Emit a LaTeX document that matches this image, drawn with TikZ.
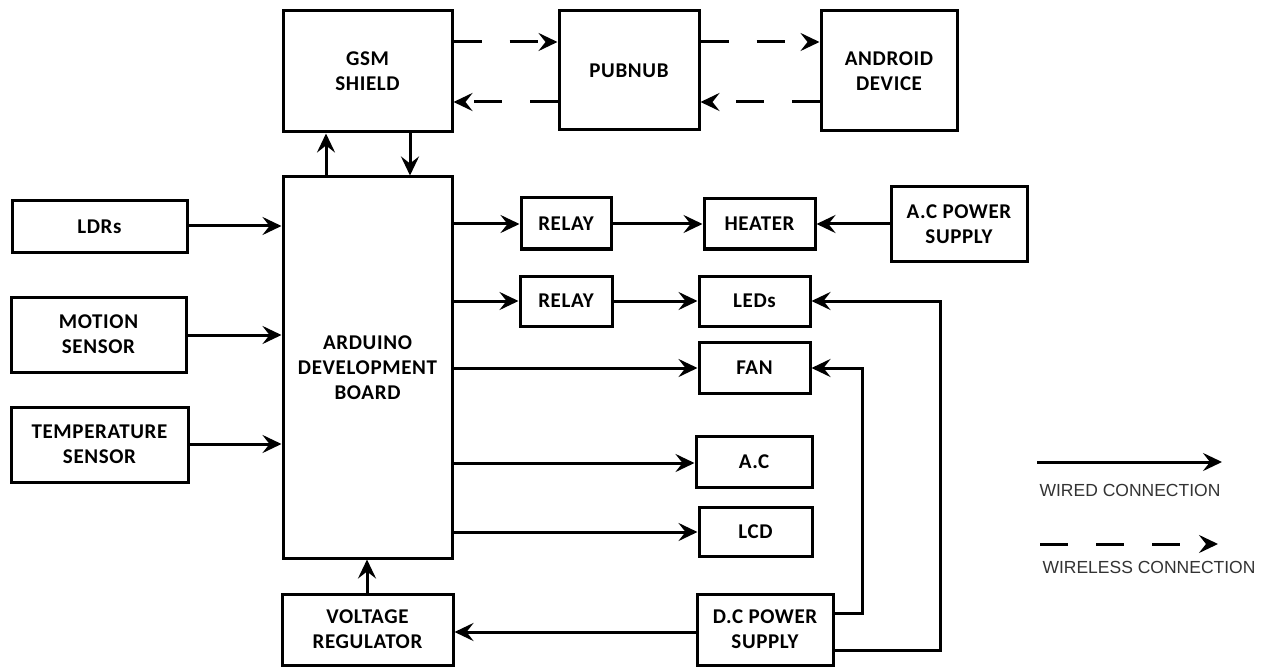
\documentclass[tikz,border=0pt]{standalone}
\usepackage{fontspec}
\setmainfont[LetterSpace=3]{Carlito}
\newfontfamily\legendfont{Liberation Sans}
\usetikzlibrary{arrows.meta}
\begin{document}
\begin{tikzpicture}[x=1pt,y=-1pt,
  box/.style={draw, line width=3pt, align=center, inner sep=0pt,
    font=\bfseries\fontsize{21}{25}\selectfont},
  wire/.style={line width=3pt, -{Stealth[length=19pt,width=18pt,inset=7pt]}},
  wless/.style={wire, dash pattern=on 28pt off 28pt},
  legendtext/.style={font=\legendfont\fontsize{17.5}{20}\selectfont, text=black!80, inner sep=0pt}
]
\useasboundingbox[fill=white] (0,0) rectangle (1265,668);

% top row
\node[box, minimum width=169pt, minimum height=121pt] (gsm) at (367.5,71.5) {GSM\\SHIELD};
\node[box, minimum width=140pt, minimum height=119pt] (pubnub) at (629,70.5) {PUBNUB};
\node[box, minimum width=136pt, minimum height=120pt] (android) at (889,71) {ANDROID\\DEVICE};

% inputs
\node[box, minimum width=175pt, minimum height=51pt] (ldr) at (99.5,226.5) {LDRs};
\node[box, minimum width=175pt, minimum height=75pt] (motion) at (98.5,334.5) {MOTION\\SENSOR};
\node[box, minimum width=177pt, minimum height=75pt] (temp) at (99.5,444.5) {TEMPERATURE\\SENSOR};

% board
\node[box, minimum width=169pt, minimum height=381pt] (ard) at (367.5,367.5) {ARDUINO\\DEVELOPMENT\\BOARD};

% outputs
\node[box, minimum width=90pt, minimum height=51pt] (relay1) at (566,223.5) {RELAY};
\node[box, minimum width=111pt, minimum height=50pt] (heater) at (759.5,224) {HEATER};
\node[box, minimum width=136pt, minimum height=74pt] (acps) at (959,224) {A.C POWER\\SUPPLY};
\node[box, minimum width=92pt, minimum height=50pt] (relay2) at (566,301) {RELAY};
\node[box, minimum width=111pt, minimum height=50pt] (leds) at (754.5,301) {LEDs};
\node[box, minimum width=111pt, minimum height=51pt] (fan) at (754.5,367.5) {FAN};
\node[box, minimum width=116pt, minimum height=51pt] (ac) at (754,461.5) {A.C};
\node[box, minimum width=113pt, minimum height=49pt] (lcd) at (755.5,531.5) {LCD};

% bottom
\node[box, minimum width=171pt, minimum height=71pt] (vr) at (367.5,629.5) {VOLTAGE\\REGULATOR};
\node[box, minimum width=136pt, minimum height=71pt] (dc) at (765,629.5) {D.C POWER\\SUPPLY};

% wireless links
\draw[wless] (gsm.east |- 0,42) -- (pubnub.west |- 0,42);
\draw[wless] (pubnub.east |- 0,42) -- (android.west |- 0,42);
\draw[wless] (pubnub.west |- 0,102) -- (gsm.east |- 0,102);
\draw[wless] (android.west |- 0,102) -- (pubnub.east |- 0,102);

% gsm <-> board
\draw[wire] (ard.north -| 326,0) -- (gsm.south -| 326,0);
\draw[wire] (gsm.south -| 410,0) -- (ard.north -| 410,0);

% inputs
\draw[wire] (ldr.east |- 0,226) -- (ard.west |- 0,226);
\draw[wire] (motion.east |- 0,335) -- (ard.west |- 0,335);
\draw[wire] (temp.east |- 0,444) -- (ard.west |- 0,444);

% outputs
\draw[wire] (ard.east |- 0,224) -- (relay1.west |- 0,224);
\draw[wire] (relay1.east |- 0,224) -- (heater.west |- 0,224);
\draw[wire] (acps.west |- 0,224) -- (heater.east |- 0,224);
\draw[wire] (ard.east |- 0,301) -- (relay2.west |- 0,301);
\draw[wire] (relay2.east |- 0,301) -- (leds.west |- 0,301);
\draw[wire] (ard.east |- 0,368) -- (fan.west |- 0,368);
\draw[wire] (ard.east |- 0,463) -- (ac.west |- 0,463);
\draw[wire] (ard.east |- 0,532) -- (lcd.west |- 0,532);

% power
\draw[wire] (vr.north -| 367,0) -- (ard.south -| 367,0);
\draw[wire] (dc.west |- 0,632) -- (vr.east |- 0,632);
\draw[wire] (dc.east |- 0,613) -| (862,368) -- (fan.east |- 0,368);
\draw[wire] (dc.east |- 0,650) -| (940,301) -- (leds.east |- 0,301);

% legend
\coordinate (w1) at (1037,462);
\coordinate (w2) at (1222,462);
\draw[wire] (w1) -- (w2);
\node[legendtext] (wiredlbl) at (1130,490) {WIRED CONNECTION};
\coordinate (d1) at (1040,544);
\coordinate (d2) at (1218,544);
\draw[wless] (d1) -- (d2);
\node[legendtext] (wirelesslbl) at (1149,567) {WIRELESS CONNECTION};
\end{tikzpicture}
\end{document}
